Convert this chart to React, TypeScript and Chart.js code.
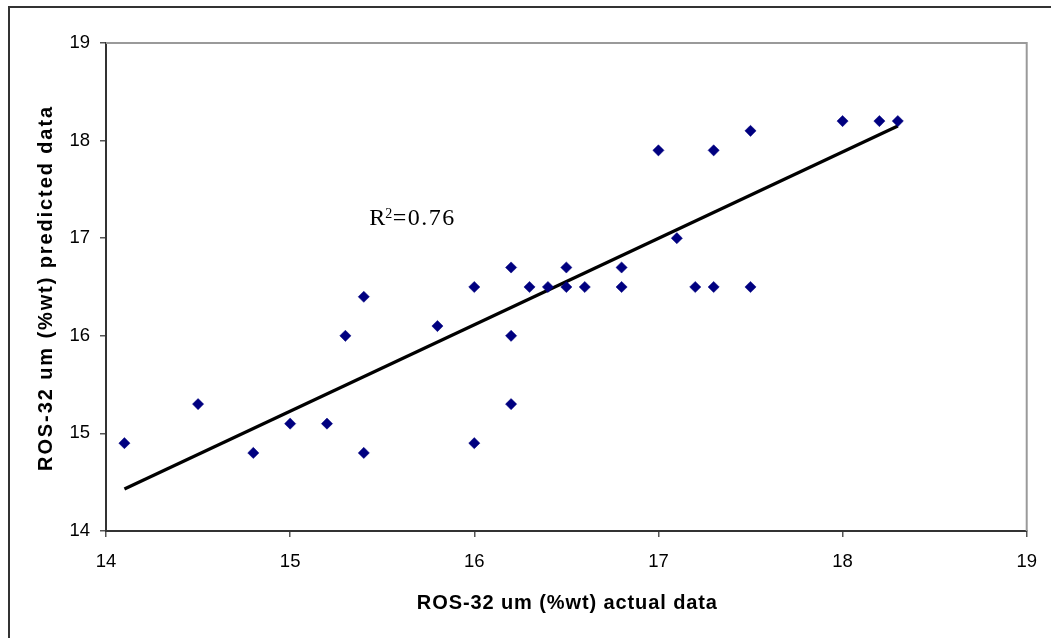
import React, { useEffect, useRef } from "react";
import { Chart, registerables } from "chart.js";

Chart.register(...registerables);

// Data
const actualData: number[] = [
  14.1, 14.5, 14.8, 15.0, 15.2, 15.3, 15.4, 15.4, 15.8, 16.0, 16.0, 16.2, 16.2, 16.2,
  16.3, 16.4, 16.5, 16.5, 16.6, 16.8, 16.8, 17.0, 17.1, 17.2, 17.3, 17.3, 17.5, 17.5,
  18.0, 18.2, 18.3,
];
const predictedData: number[] = [
  14.9, 15.3, 14.8, 15.1, 15.1, 16.0, 16.4, 14.8, 16.1, 16.5, 14.9, 16.7, 16.0, 15.3,
  16.5, 16.5, 16.7, 16.5, 16.5, 16.7, 16.5, 17.9, 17.0, 16.5, 17.9, 16.5, 18.1, 16.5,
  18.2, 18.2, 18.2,
];
// Linear trendline end points (as drawn in the reference)
const trendX: number[] = [14.1, 18.3];
const trendY: number[] = [14.43, 18.15];

const axisMin = 14;
const axisMax = 19;
const axisStep = 1;

const xTitle = "ROS-32 um (%wt) actual data";
const yTitle = "ROS-32 um (%wt) predicted data";
const r2Label = "R";
const r2Sup = "2";
const r2Value = "=0.76";
const r2Anchor = { x: 15.43, y: 17.135 };

const SANS = "'Liberation Sans', Arial, sans-serif";
const SERIF = "'Liberation Serif', 'Times New Roman', serif";

export default function App() {
  const canvasRef = useRef<HTMLCanvasElement | null>(null);

  useEffect(() => {
    document.body.style.margin = "0";
    const canvas = canvasRef.current;
    if (!canvas) return;

    const decorPlugin = {
      id: "decor",
      beforeDraw(chart: any) {
        const ctx = chart.ctx;
        ctx.save();
        ctx.fillStyle = "#ffffff";
        ctx.fillRect(0, 0, chart.width, chart.height);
        ctx.restore();
      },
      beforeDatasetsDraw(chart: any) {
        const ctx = chart.ctx;
        const a = chart.chartArea;
        ctx.save();
        ctx.strokeStyle = "#9a9a9a";
        ctx.lineWidth = 2;
        ctx.beginPath();
        ctx.moveTo(a.left, a.top);
        ctx.lineTo(a.right, a.top);
        ctx.lineTo(a.right, a.bottom);
        ctx.stroke();
        ctx.restore();
      },
      afterDraw(chart: any) {
        const ctx = chart.ctx;
        const a = chart.chartArea;
        ctx.save();
        // outer frame (right and bottom edges fall outside the picture)
        ctx.strokeStyle = "#333333";
        ctx.lineWidth = 2;
        ctx.strokeRect(9, 7, 1200, 1200);

        // axis titles
        ctx.fillStyle = "#000000";
        ctx.font = `bold 20px ${SANS}`;
        (ctx as any).letterSpacing = "0.9px";
        ctx.textAlign = "center";
        ctx.textBaseline = "alphabetic";
        ctx.fillText(xTitle, (a.left + a.right) / 2 + 1, 609);

        ctx.save();
        (ctx as any).letterSpacing = "1.9px";
        ctx.translate(52, (a.top + a.bottom) / 2 + 1);
        ctx.rotate(-Math.PI / 2);
        ctx.fillText(yTitle, 0, 0);
        ctx.restore();

        // R^2 annotation
        const px = chart.scales.x.getPixelForValue(r2Anchor.x);
        const py = chart.scales.y.getPixelForValue(r2Anchor.y);
        ctx.textAlign = "left";
        (ctx as any).letterSpacing = "0px";
        ctx.font = `24px ${SERIF}`;
        ctx.fillText(r2Label, px, py);
        let cx = px + ctx.measureText(r2Label).width;
        ctx.font = `14px ${SERIF}`;
        ctx.fillText(r2Sup, cx, py - 7.5);
        cx += ctx.measureText(r2Sup).width + 0.5;
        ctx.font = `24px ${SERIF}`;
        (ctx as any).letterSpacing = "1.5px";
        ctx.fillText(r2Value, cx, py);
        ctx.restore();
      },
    };

    const tickColor = "#555555";
    const axisColor = "#333333";

    const chart = new Chart(canvas, {
      type: "scatter",
      data: {
        datasets: [
          {
            label: "Trendline",
            data: trendX.map((x, i) => ({ x, y: trendY[i] })),
            showLine: true,
            borderColor: "#000000",
            borderWidth: 3.2,
            pointRadius: 0,
            pointHoverRadius: 0,
            fill: false,
            order: 2,
          },
          {
            label: "Predicted vs actual",
            data: actualData.map((x, i) => ({ x, y: predictedData[i] })),
            pointStyle: "rectRot",
            pointRadius: 5.6,
            pointBackgroundColor: "#000080",
            pointBorderColor: "#000080",
            pointBorderWidth: 0.5,
            showLine: false,
            order: 1,
          },
        ],
      },
      options: {
        animation: false,
        responsive: false,
        maintainAspectRatio: false,
        devicePixelRatio: 1,
        layout: { padding: { left: 0, top: 43, right: 24, bottom: 0 } },
        plugins: {
          legend: { display: false },
          tooltip: { enabled: false },
          title: { display: false },
        },
        scales: {
          x: {
            type: "linear",
            min: axisMin,
            max: axisMax,
            ticks: {
              stepSize: axisStep,
              color: "#000000",
              padding: 14,
              font: { family: SANS, size: 18.5 },
              maxRotation: 0,
            },
            grid: {
              drawOnChartArea: false,
              drawTicks: true,
              tickLength: 6,
              color: tickColor,
              lineWidth: 1.5,
            },
            border: { display: true, color: axisColor, width: 2 },
            afterFit: (scale: any) => {
              scale.height = 107;
            },
          },
          y: {
            type: "linear",
            min: axisMin,
            max: axisMax,
            ticks: {
              stepSize: axisStep,
              color: "#000000",
              padding: 10,
              font: { family: SANS, size: 18.5 },
            },
            grid: {
              drawOnChartArea: false,
              drawTicks: true,
              tickLength: 6,
              color: tickColor,
              lineWidth: 1.5,
            },
            border: { display: true, color: axisColor, width: 2 },
            afterFit: (scale: any) => {
              scale.width = 106;
            },
          },
        },
      },
      plugins: [decorPlugin],
    } as any);

    return () => {
      chart.destroy();
    };
  }, []);

  return (
    <div style={{ width: 1051, height: 638 }}>
      <canvas ref={canvasRef} width={1051} height={638} style={{ display: "block" }} />
    </div>
  );
}
